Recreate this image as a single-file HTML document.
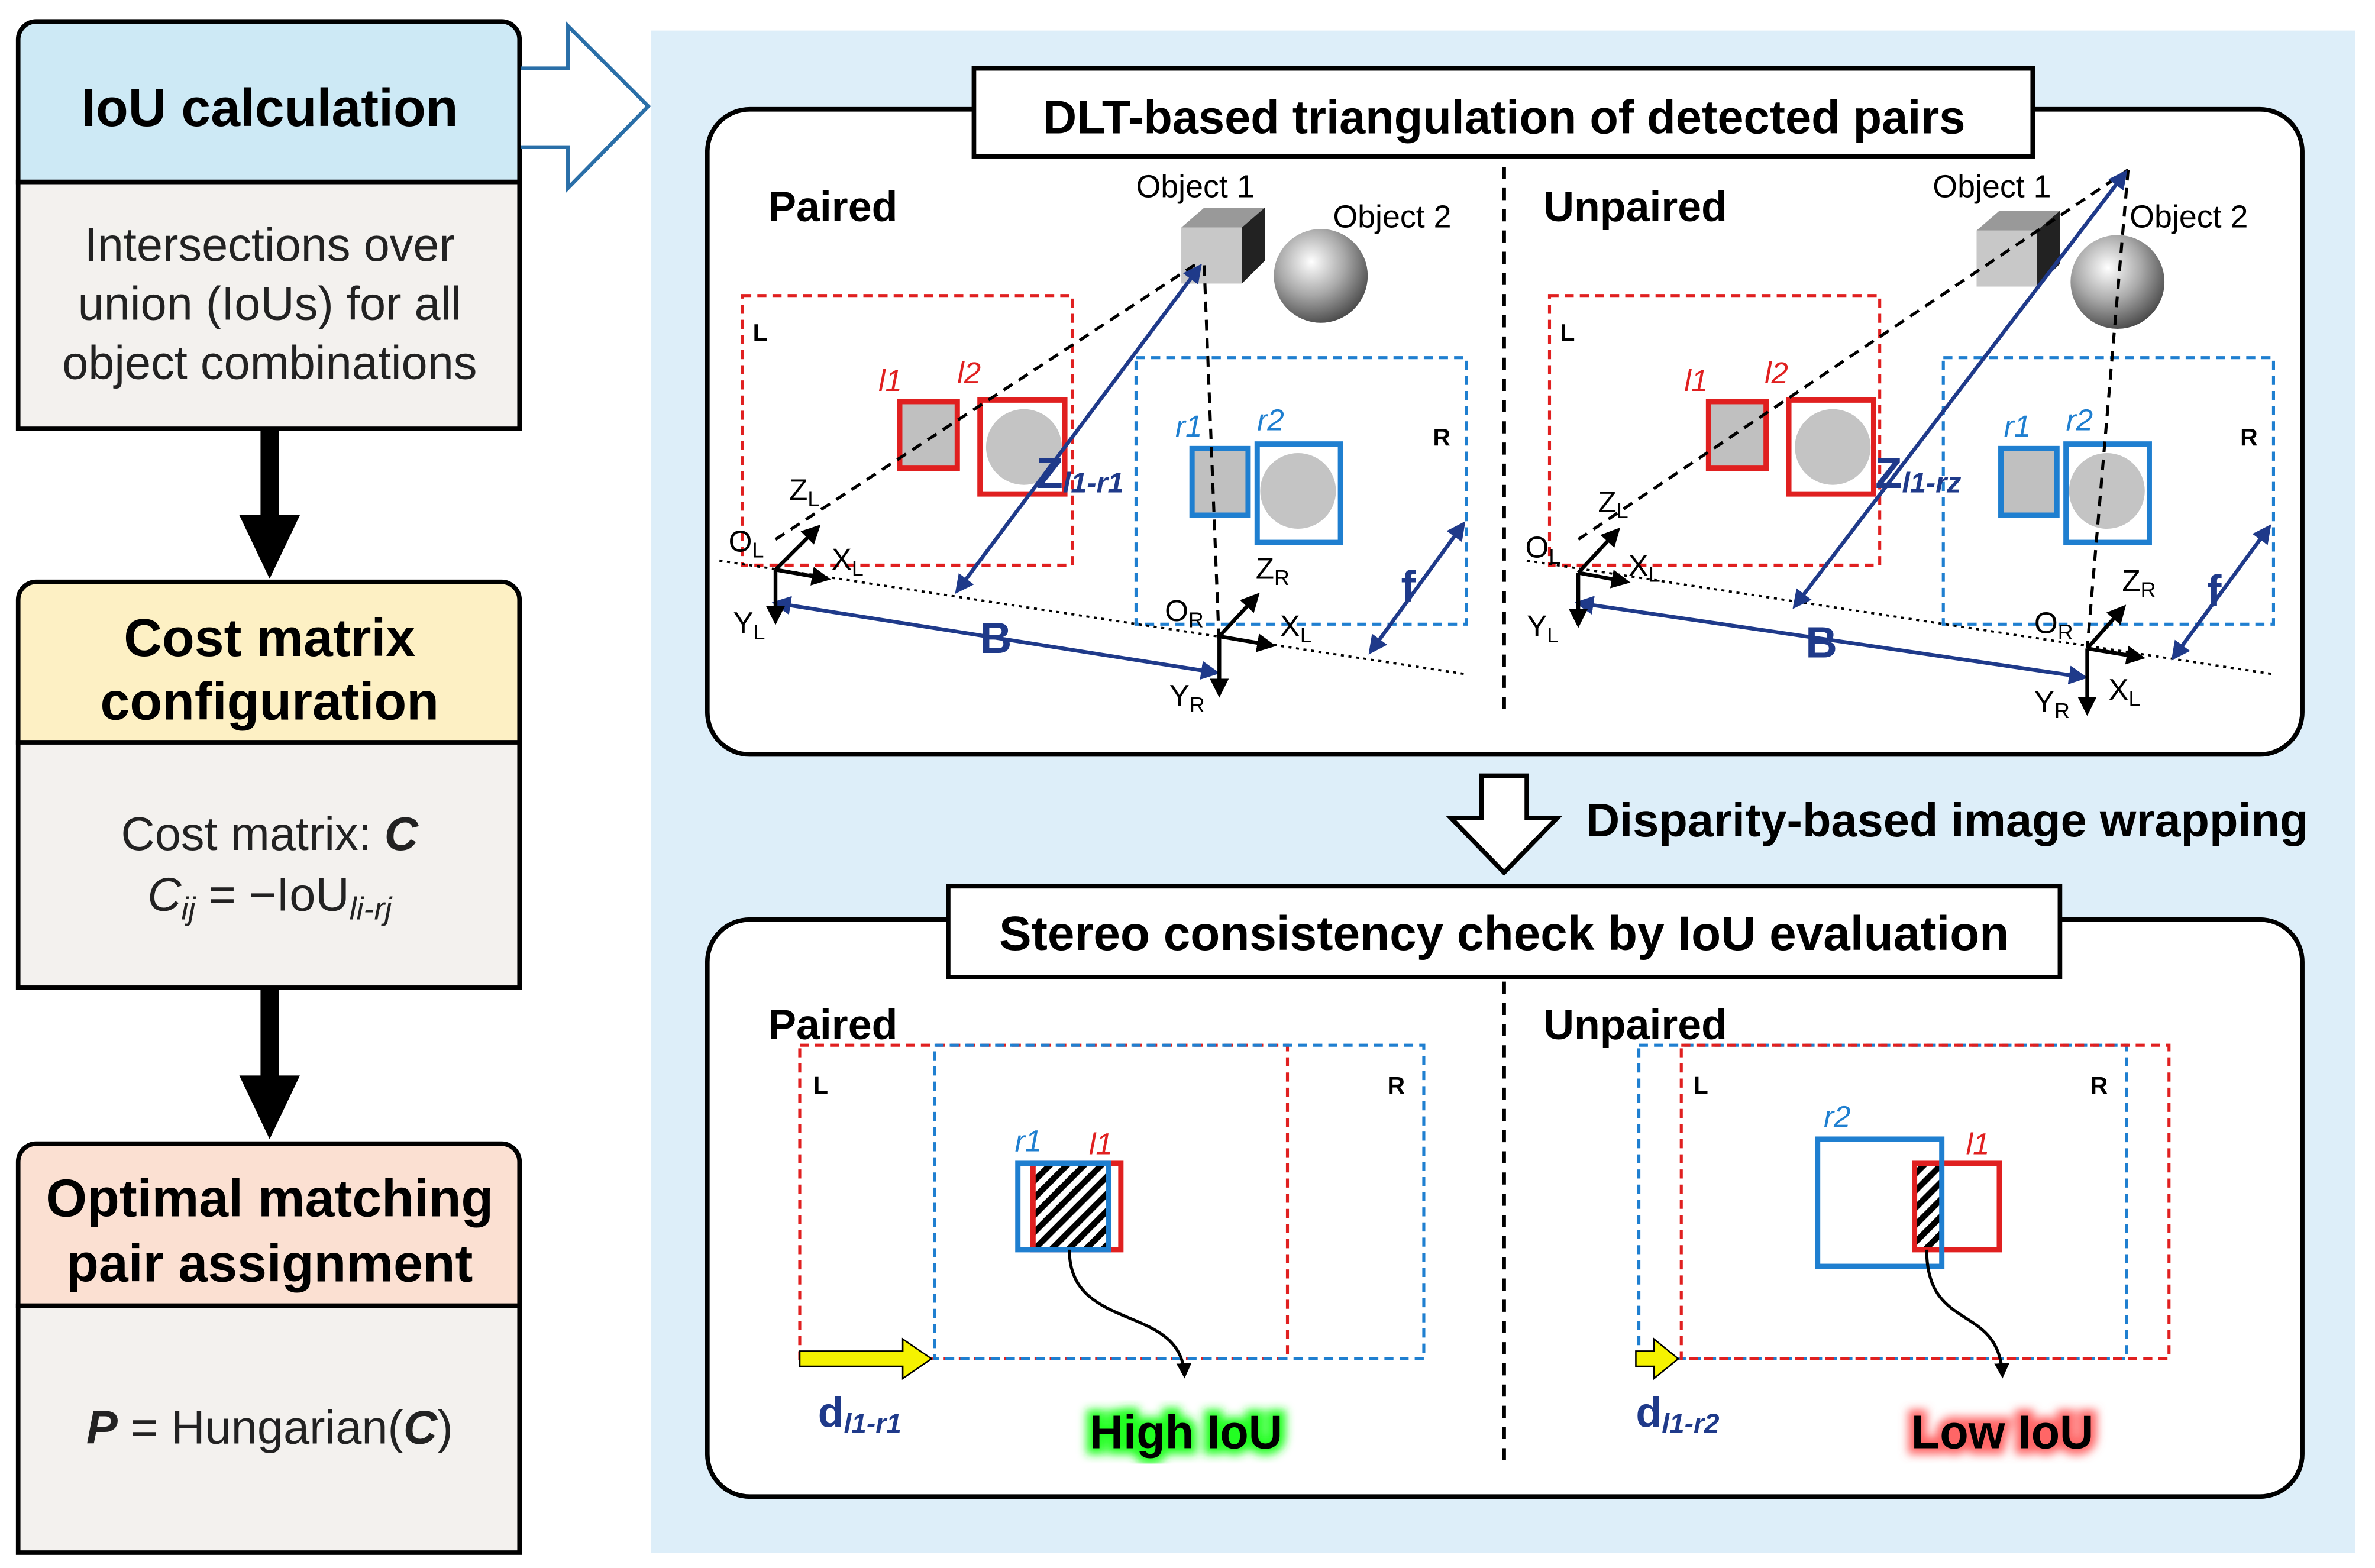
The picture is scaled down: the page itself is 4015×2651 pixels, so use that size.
<!DOCTYPE html>
<html><head><meta charset="utf-8"><style>
html,body{margin:0;padding:0;background:#fff}
svg{display:block}
text{font-family:"Liberation Sans",Arial,sans-serif}
</style></head><body>
<svg width="4015" height="2651" viewBox="0 0 1568 1035" xmlns="http://www.w3.org/2000/svg">
<defs>
<marker id="bl" viewBox="0 0 10 10" refX="8" refY="5" markerWidth="5" markerHeight="5" orient="auto-start-reverse"><path d="M0,0L10,5L0,10z" fill="#1f3a8a"/></marker>
<marker id="bk" viewBox="0 0 10 10" refX="8" refY="5" markerWidth="5" markerHeight="5" orient="auto-start-reverse"><path d="M0,0L10,5L0,10z" fill="#000"/></marker>
<pattern id="hatch" width="8" height="8" patternUnits="userSpaceOnUse" patternTransform="rotate(45)"><rect width="8" height="8" fill="#fff"/><rect width="4" height="8" fill="#000"/></pattern>
<radialGradient id="sph" cx="0.4" cy="0.35" r="0.7"><stop offset="0" stop-color="#fff"/><stop offset="0.5" stop-color="#aaa"/><stop offset="1" stop-color="#444"/></radialGradient>
<filter id="gg"><feGaussianBlur stdDeviation="3"/></filter>
</defs>
<rect width="1568" height="1035" fill="#fff"/>
<rect x="430" y="20" width="1125" height="1005" fill="#ddeef9"/>
<g stroke="#000" stroke-width="3">
<path d="M12,120V26a12,12 0 0 1 12-12H331a12,12 0 0 1 12,12V120z" fill="#cde9f5"/>
<rect x="12" y="120" width="331" height="163" fill="#f3f1ee"/>
<path d="M12,490V396a12,12 0 0 1 12-12H331a12,12 0 0 1 12,12V490z" fill="#fdf0c4"/>
<rect x="12" y="490" width="331" height="162" fill="#f3f1ee"/>
<path d="M12,862V767a12,12 0 0 1 12-12H331a12,12 0 0 1 12,12V862z" fill="#fbe0d2"/>
<rect x="12" y="862" width="331" height="163" fill="#f3f1ee"/>
</g>
<g font-size="35" font-weight="bold" text-anchor="middle">
<text x="178" y="83">IoU calculation</text>
<text x="178" y="433">Cost matrix</text>
<text x="178" y="475">configuration</text>
<text x="178" y="803">Optimal matching</text>
<text x="178" y="846">pair assignment</text>
</g>
<g font-size="31" text-anchor="middle" fill="#222">
<text x="178" y="172">Intersections over</text>
<text x="178" y="211">union (IoUs) for all</text>
<text x="178" y="250">object combinations</text>
<text x="178" y="561">Cost matrix: <tspan font-weight="bold" font-style="italic">C</tspan></text>
<text x="178" y="601"><tspan font-style="italic">C</tspan><tspan font-style="italic" font-size="21" dy="6">ij</tspan><tspan dy="-6"> = −IoU</tspan><tspan font-style="italic" font-size="21" dy="6">li-rj</tspan></text>
<text x="178" y="953"><tspan font-weight="bold" font-style="italic">P</tspan> = Hungarian(<tspan font-weight="bold" font-style="italic">C</tspan>)</text>
</g>
<rect x="172" y="283" width="12" height="60" fill="#000"/><path d="M158,340H198L178,382z" fill="#000"/>
<rect x="172" y="652" width="12" height="62" fill="#000"/><path d="M158,710H198L178,752z" fill="#000"/>
<path d="M344,45H375V17L428,70L375,124V97H344" fill="#fff" stroke="#2a6fa8" stroke-width="2.5"/>
<rect x="467" y="72" width="1053" height="426" rx="28" fill="#fff" stroke="#000" stroke-width="3"/>
<rect x="643" y="45" width="699" height="58" fill="#fff" stroke="#000" stroke-width="3"/>
<text x="993" y="88" font-size="31" font-weight="bold" text-anchor="middle">DLT-based triangulation of detected pairs</text>
<line x1="993" y1="110" x2="993" y2="472" stroke="#000" stroke-width="2.5" stroke-dasharray="8,6"/>
<rect x="467" y="607" width="1053" height="381" rx="28" fill="#fff" stroke="#000" stroke-width="3"/>
<rect x="626" y="585" width="734" height="60" fill="#fff" stroke="#000" stroke-width="3"/>
<text x="993" y="627" font-size="32" font-weight="bold" text-anchor="middle">Stereo consistency check by IoU evaluation</text>
<line x1="993" y1="648" x2="993" y2="970" stroke="#000" stroke-width="2.5" stroke-dasharray="8,6"/>
<path d="M978,512H1008V540H1028L993,576L958,540H978z" fill="#fff" stroke="#000" stroke-width="3"/>
<text x="1047" y="552" font-size="31" font-weight="bold">Disparity-based image wrapping</text>

<g id="tp">
<rect x="490" y="195" width="218" height="178" fill="none" stroke="#e02020" stroke-width="2" stroke-dasharray="6,4"/>
<text x="497" y="225" font-size="16" font-weight="bold">L</text>
<rect x="750" y="236" width="218" height="176" fill="none" stroke="#1f7fd0" stroke-width="2" stroke-dasharray="6,4"/>
<text x="946" y="294" font-size="16" font-weight="bold">R</text>
<line x1="475" y1="370" x2="968" y2="445" stroke="#000" stroke-width="1.5" stroke-dasharray="2,3"/>
</g>
<text x="507" y="146" font-size="28" font-weight="bold">Paired</text>
<rect x="594" y="265" width="38" height="44" fill="#c0c0c0" stroke="#e02020" stroke-width="3.5"/>
<rect x="647" y="264" width="56" height="62" fill="#fff" stroke="#e02020" stroke-width="3.5"/>
<circle cx="676" cy="295" r="25" fill="#c4c4c4"/>
<text x="580" y="258" font-size="20" fill="#e02020" font-style="italic">l1</text>
<text x="632" y="253" font-size="20" fill="#e02020" font-style="italic">l2</text>
<rect x="787" y="296" width="37" height="44" fill="#c0c0c0" stroke="#1f7fd0" stroke-width="3.5"/>
<rect x="830" y="293" width="55" height="65" fill="#fff" stroke="#1f7fd0" stroke-width="3.5"/>
<circle cx="857" cy="324" r="25" fill="#c4c4c4"/>
<text x="776" y="288" font-size="20" fill="#1f7fd0" font-style="italic">r1</text>
<text x="830" y="284" font-size="20" fill="#1f7fd0" font-style="italic">r2</text>
<text x="750" y="130" font-size="21">Object 1</text>
<text x="880" y="150" font-size="21">Object 2</text>
<path d="M780,150L795,137H835V172L820,187H780z" fill="#999"/><rect x="780" y="150" width="40" height="37" fill="#c8c8c8"/><path d="M820,150L835,137V172L820,187z" fill="#222"/>
<circle cx="872" cy="182" r="31" fill="url(#sph)"/>
<line x1="512" y1="356" x2="793" y2="172" stroke="#000" stroke-width="2" stroke-dasharray="7,5"/>
<line x1="795" y1="175" x2="805" y2="428" stroke="#000" stroke-width="2" stroke-dasharray="7,5"/>
<line x1="632" y1="390" x2="792" y2="176" stroke="#1f3a8a" stroke-width="2.5" marker-start="url(#bl)" marker-end="url(#bl)"/>
<text x="684" y="322" font-size="29" font-weight="bold" fill="#1f3a8a">Z<tspan font-size="19" font-style="italic" dy="3">l1-r1</tspan></text>
<line x1="512" y1="398" x2="803" y2="444" stroke="#1f3a8a" stroke-width="2.5" marker-start="url(#bl)" marker-end="url(#bl)"/>
<text x="647" y="431" font-size="29" font-weight="bold" fill="#1f3a8a">B</text>
<line x1="905" y1="430" x2="966" y2="346" stroke="#1f3a8a" stroke-width="2.5" marker-start="url(#bl)" marker-end="url(#bl)"/>
<text x="925" y="397" font-size="29" font-weight="bold" fill="#1f3a8a">f</text>
<g stroke="#000" stroke-width="2.5" fill="none">
<path d="M512,376L540,348" marker-end="url(#bk)"/><path d="M512,376L546,382" marker-end="url(#bk)"/><path d="M512,376V410" marker-end="url(#bk)"/>
<path d="M805,420L830,393" marker-end="url(#bk)"/><path d="M805,420L840,426" marker-end="url(#bk)"/><path d="M805,420V458" marker-end="url(#bk)"/>
</g>
<g font-size="20">
<text x="521" y="330">Z<tspan font-size="14" dy="4">L</tspan></text>
<text x="481" y="364">O<tspan font-size="14" dy="4">L</tspan></text>
<text x="549" y="376">X<tspan font-size="14" dy="4">L</tspan></text>
<text x="484" y="418">Y<tspan font-size="14" dy="4">L</tspan></text>
<text x="829" y="382">Z<tspan font-size="14" dy="4">R</tspan></text>
<text x="769" y="410">O<tspan font-size="14" dy="4">R</tspan></text>
<text x="845" y="420">X<tspan font-size="14" dy="4">L</tspan></text>
<text x="772" y="466">Y<tspan font-size="14" dy="4">R</tspan></text>
</g>

<use href="#tp" x="533"/>
<text x="1019" y="146" font-size="28" font-weight="bold">Unpaired</text>
<rect x="1128" y="265" width="38" height="44" fill="#c0c0c0" stroke="#e02020" stroke-width="3.5"/>
<rect x="1181" y="264" width="56" height="62" fill="#fff" stroke="#e02020" stroke-width="3.5"/>
<circle cx="1210" cy="295" r="25" fill="#c4c4c4"/>
<text x="1112" y="258" font-size="20" fill="#e02020" font-style="italic">l1</text>
<text x="1165" y="253" font-size="20" fill="#e02020" font-style="italic">l2</text>
<rect x="1321" y="296" width="37" height="44" fill="#c0c0c0" stroke="#1f7fd0" stroke-width="3.5"/>
<rect x="1364" y="293" width="55" height="65" fill="#fff" stroke="#1f7fd0" stroke-width="3.5"/>
<circle cx="1391" cy="324" r="25" fill="#c4c4c4"/>
<text x="1323" y="288" font-size="20" fill="#1f7fd0" font-style="italic">r1</text>
<text x="1364" y="284" font-size="20" fill="#1f7fd0" font-style="italic">r2</text>
<text x="1276" y="130" font-size="21">Object 1</text>
<text x="1406" y="150" font-size="21">Object 2</text>
<path d="M1305,152L1320,139H1360V174L1345,189H1305z" fill="#999"/><rect x="1305" y="152" width="40" height="37" fill="#c8c8c8"/><path d="M1345,152L1360,139V174L1345,189z" fill="#222"/>
<circle cx="1398" cy="186" r="31" fill="url(#sph)"/>
<line x1="1042" y1="356" x2="1405" y2="112" stroke="#000" stroke-width="2" stroke-dasharray="7,5"/>
<line x1="1405" y1="112" x2="1378" y2="428" stroke="#000" stroke-width="2" stroke-dasharray="7,5"/>
<line x1="1185" y1="400" x2="1403" y2="114" stroke="#1f3a8a" stroke-width="2.5" marker-start="url(#bl)" marker-end="url(#bl)"/>
<text x="1238" y="322" font-size="29" font-weight="bold" fill="#1f3a8a">Z<tspan font-size="19" font-style="italic" dy="3">l1-rz</tspan></text>
<line x1="1042" y1="398" x2="1376" y2="447" stroke="#1f3a8a" stroke-width="2.5" marker-start="url(#bl)" marker-end="url(#bl)"/>
<text x="1192" y="434" font-size="29" font-weight="bold" fill="#1f3a8a">B</text>
<line x1="1435" y1="434" x2="1498" y2="348" stroke="#1f3a8a" stroke-width="2.5" marker-start="url(#bl)" marker-end="url(#bl)"/>
<text x="1457" y="400" font-size="29" font-weight="bold" fill="#1f3a8a">f</text>
<g stroke="#000" stroke-width="2.5" fill="none">
<path d="M1042,378L1068,350" marker-end="url(#bk)"/><path d="M1042,378L1074,384" marker-end="url(#bk)"/><path d="M1042,378V412" marker-end="url(#bk)"/>
<path d="M1378,428L1402,401" marker-end="url(#bk)"/><path d="M1378,428L1414,434" marker-end="url(#bk)"/><path d="M1378,428V470" marker-end="url(#bk)"/>
</g>
<g font-size="20">
<text x="1055" y="338">Z<tspan font-size="14" dy="4">L</tspan></text>
<text x="1007" y="368">O<tspan font-size="14" dy="4">L</tspan></text>
<text x="1075" y="380">X<tspan font-size="14" dy="4">L</tspan></text>
<text x="1008" y="420">Y<tspan font-size="14" dy="4">L</tspan></text>
<text x="1401" y="390">Z<tspan font-size="14" dy="4">R</tspan></text>
<text x="1343" y="418">O<tspan font-size="14" dy="4">R</tspan></text>
<text x="1392" y="462">X<tspan font-size="14" dy="4">L</tspan></text>
<text x="1343" y="470">Y<tspan font-size="14" dy="4">R</tspan></text>
</g>

<text x="507" y="686" font-size="28" font-weight="bold">Paired</text>
<rect x="528" y="690" width="322" height="207" fill="none" stroke="#e02020" stroke-width="2" stroke-dasharray="6,4"/>
<rect x="617" y="690" width="323" height="207" fill="none" stroke="#1f7fd0" stroke-width="2" stroke-dasharray="6,4"/>
<text x="537" y="722" font-size="16" font-weight="bold">L</text>
<text x="916" y="722" font-size="16" font-weight="bold">R</text>
<rect x="682" y="768" width="50" height="57" fill="url(#hatch)"/>
<rect x="682" y="768" width="58" height="57" fill="none" stroke="#e02020" stroke-width="3.5"/>
<rect x="672" y="768" width="60" height="57" fill="none" stroke="#1f7fd0" stroke-width="3.5"/>
<text x="670" y="760" font-size="20" fill="#1f7fd0" font-style="italic">r1</text>
<text x="719" y="762" font-size="20" fill="#e02020" font-style="italic">l1</text>
<path d="M706,825C706,880 780,860 782,908" fill="none" stroke="#000" stroke-width="2" marker-end="url(#bk)"/>
<path d="M528,892H596V884L615,897L596,910V902H528z" fill="#f5f200" stroke="#000" stroke-width="1"/>
<text x="540" y="942" font-size="28" font-weight="bold" fill="#1f3a8a">d<tspan font-size="18" font-style="italic" dy="4">l1-r1</tspan></text>
<text x="783" y="956" font-size="31" font-weight="bold" text-anchor="middle" fill="#2f2" stroke="#2f2" stroke-width="8" filter="url(#gg)">High IoU</text>
<text x="783" y="956" font-size="31" font-weight="bold" text-anchor="middle" fill="#000">High IoU</text>

<text x="1019" y="686" font-size="28" font-weight="bold">Unpaired</text>
<rect x="1082" y="690" width="322" height="207" fill="none" stroke="#1f7fd0" stroke-width="2" stroke-dasharray="6,4"/>
<rect x="1110" y="690" width="322" height="207" fill="none" stroke="#e02020" stroke-width="2" stroke-dasharray="6,4"/>
<text x="1118" y="722" font-size="16" font-weight="bold">L</text>
<text x="1380" y="722" font-size="16" font-weight="bold">R</text>
<rect x="1264" y="768" width="18" height="57" fill="url(#hatch)"/>
<rect x="1264" y="768" width="56" height="57" fill="none" stroke="#e02020" stroke-width="3.5"/>
<rect x="1200" y="752" width="82" height="84" fill="none" stroke="#1f7fd0" stroke-width="3.5"/>
<text x="1204" y="744" font-size="20" fill="#1f7fd0" font-style="italic">r2</text>
<text x="1298" y="762" font-size="20" fill="#e02020" font-style="italic">l1</text>
<path d="M1272,825C1272,880 1320,860 1322,908" fill="none" stroke="#000" stroke-width="2" marker-end="url(#bk)"/>
<path d="M1080,892H1092V884L1108,897L1092,910V902H1080z" fill="#f5f200" stroke="#000" stroke-width="1"/>
<text x="1080" y="942" font-size="28" font-weight="bold" fill="#1f3a8a">d<tspan font-size="18" font-style="italic" dy="4">l1-r2</tspan></text>
<text x="1322" y="956" font-size="31" font-weight="bold" text-anchor="middle" fill="#f66" stroke="#f66" stroke-width="8" filter="url(#gg)">Low IoU</text>
<text x="1322" y="956" font-size="31" font-weight="bold" text-anchor="middle" fill="#000">Low IoU</text>
</svg>
</body></html>
